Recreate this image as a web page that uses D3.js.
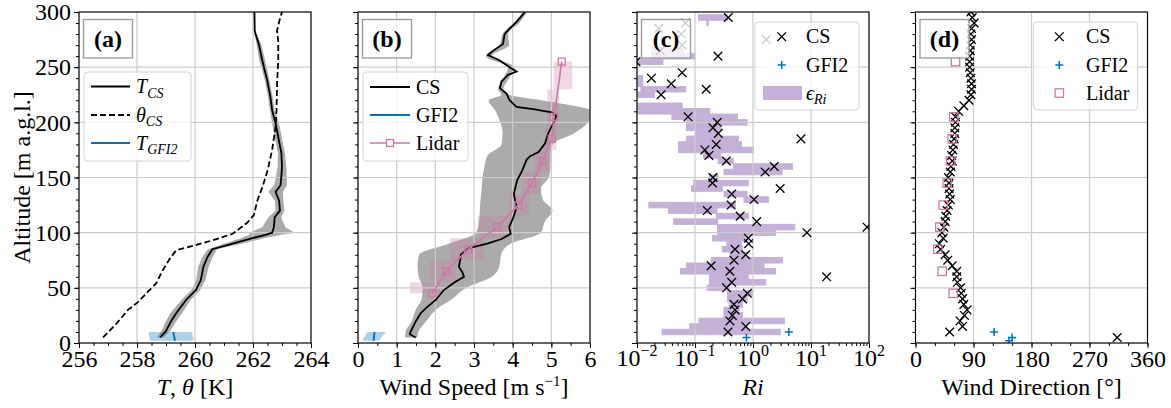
<!DOCTYPE html>
<html>
<head>
<meta charset="utf-8">
<script src="https://cdn.jsdelivr.net/npm/d3@7"></script>
<style>
  body { margin: 0; background: #fff; }
  svg { display: block; }
</style>
</head>
<body>
<svg id="fig" width="1171" height="408"></svg>
<script>
// ---------- Panel (a): temperature profiles ----------
const tcsAlt = [5, 11, 20, 27, 39, 48, 57, 69, 78, 85, 90, 95, 98, 100, 105, 114, 120, 129, 137, 143, 152, 160, 172, 184, 199, 211, 223, 238, 256, 271, 280, 283, 300];
const tcsT   = [258.80, 259.00, 259.18, 259.35, 259.69, 260.03, 260.20, 260.29, 260.43, 260.60, 261.30, 261.98, 262.43, 262.66, 262.72, 262.75, 262.93, 262.90, 262.78, 262.95, 262.98, 263.00, 262.98, 262.89, 262.78, 262.66, 262.60, 262.49, 262.32, 262.20, 262.09, 262.06, 262.05];
const tcsStd = [0.10, 0.15, 0.18, 0.20, 0.16, 0.15, 0.16, 0.18, 0.18, 0.16, 0.30, 0.40, 0.55, 0.78, 0.40, 0.22, 0.15, 0.15, 0.25, 0.22, 0.18, 0.15, 0.12, 0.12, 0.12, 0.08, 0.08, 0.08, 0.10, 0.08, 0.04, 0.00, 0.00];

const thetaAlt = [5, 17.5, 30, 37, 48, 54, 66, 76, 84, 88, 93, 99, 109, 116, 129, 141, 156, 175, 196, 211, 235, 256, 274, 283, 292, 300];
const thetaCS  = [256.83, 257.29, 257.69, 258.03, 258.43, 258.66, 258.89, 259.12, 259.35, 259.92, 260.60, 261.30, 261.80, 262.03, 262.15, 262.32, 262.50, 262.66, 262.78, 262.81, 262.83, 262.87, 262.87, 262.83, 262.91, 263.00];

const gfiAlt  = [2, 10];
const gfiT    = [259.31, 259.25];
const gfiTLo  = [258.45, 258.40];
const gfiTHi  = [259.95, 259.90];

// ---------- Panel (b): wind speed ----------
const wsAlt = [5, 8, 10, 20, 27, 33, 39, 48, 55, 60, 64, 69, 75, 80, 86, 90, 94, 99, 105, 114, 123, 135, 148, 155, 166, 169, 173, 181, 190, 199, 206, 209, 212, 214, 220, 226, 231, 237, 243, 246, 250, 256, 261, 265, 271, 280, 285, 291, 300];
const wsCS  = [1.49, 1.34, 1.36, 1.50, 1.62, 1.80, 2.01, 2.22, 2.50, 2.74, 2.70, 2.61, 2.64, 2.66, 2.87, 3.34, 3.70, 3.95, 3.91, 4.02, 4.10, 4.03, 4.12, 4.23, 4.36, 4.44, 4.67, 4.84, 4.92, 5.05, 5.13, 5.01, 4.53, 4.10, 3.92, 3.84, 3.67, 3.71, 3.88, 4.10, 3.92, 3.67, 3.36, 3.50, 3.75, 3.79, 3.92, 4.10, 4.32];

const wsBandAlt = [5, 10, 20, 30, 40, 50, 60, 70, 80, 90, 100, 110, 120, 130, 140, 150, 160, 170, 180, 190, 200, 210, 220, 225, 230, 240, 250, 260, 270, 280, 290, 300];
const wsBandLo  = [1.22, 1.23, 1.39, 1.49, 1.65, 1.67, 1.57, 1.54, 1.58, 2.34, 3.05, 3.13, 3.15, 3.17, 3.20, 3.22, 3.27, 3.35, 3.71, 3.74, 3.68, 3.56, 3.38, 3.71, 3.62, 3.76, 3.88, 3.31, 3.66, 3.74, 4.03, 4.27];
const wsBandHi  = [1.54, 1.56, 1.77, 2.01, 2.44, 2.80, 3.46, 3.66, 3.70, 3.94, 4.73, 4.83, 5.03, 4.78, 4.73, 4.93, 4.98, 4.98, 5.03, 5.59, 5.95, 6.05, 4.73, 3.91, 3.76, 3.91, 4.05, 3.46, 3.91, 3.88, 4.17, 4.37];

const lidarAlt  = [45, 65, 85, 105, 125, 145, 165, 185, 205, 255];
const lidarWs   = [1.92, 2.29, 2.85, 3.60, 4.15, 4.50, 4.77, 5.01, 5.07, 5.27];
const lidarWsLo = [1.34, 1.86, 2.39, 3.10, 3.91, 4.25, 4.58, 4.83, 4.90, 5.06];
const lidarWsHi = [2.12, 2.54, 3.25, 3.93, 4.42, 4.73, 4.93, 5.13, 5.20, 5.54];

const gfiWs   = [0.40, 0.43];
const gfiWsLo = [0.11, 0.24];
const gfiWsHi = [0.54, 0.72];

// ---------- Panel (c): Richardson number ----------
const riAlt = [10, 15, 20, 25, 30, 35, 40, 45, 50, 55, 60, 65, 70, 75, 80, 85, 90, 95, 100, 105, 110, 115, 120, 125, 130, 135, 140, 145, 150, 155, 160, 165, 170, 175, 180, 185, 190, 195, 200, 205, 225, 230, 235, 240, 245, 255, 260, 265, 270, 275, 280, 285, 290, 295];
const riCS  = [0.37, 0.75, 0.40, 0.44, 0.49, 0.47, 0.66, 0.80, 0.35, 0.43, 18.6, 0.40, 0.19, 0.47, 0.75, 0.49, 0.84, 0.83, 8.5, 92.7, 1.16, 0.60, 0.163, 0.42, 1.04, 0.43, 2.94, 0.20, 0.204, 1.62, 2.32, 0.347, 0.174, 0.148, 0.232, 6.7, 0.252, 0.204, 0.242, 0.076, 0.026, 0.156, 0.039, 0.0177, 0.060, 0.0096, 0.249, 0.0253, 0.060, 1.7, 0.058, 0.0237, 0.0686, 0.375];

const epsAlt = [10, 15, 20, 25, 30, 35, 40, 45, 50, 55, 60, 65, 70, 75, 80, 85, 90, 95, 100, 105, 110, 115, 120, 125, 130, 135, 140, 145, 150, 155, 160, 165, 170, 175, 180, 185, 190, 195, 200, 205, 210, 215, 225, 230, 235, 240, 255, 260, 265, 290, 295];
const epsLo  = [0.027, 0.081, 0.117, 0.316, 0.316, 0.389, 0.363, 0.363, 0.162, 0.178, 0.178, 0.056, 0.071, 0.19, 0.40, 0.295, 0.355, 0.20, 0.245, 0.245, 0.043, 0.234, 0.035, 0.016, 0.70, 0.316, 0.087, 0.095, 0.178, 0.316, 0.457, 0.25, 0.141, 0.052, 0.052, 0.072, 0.10, 0.071, 0.072, 0.04, 0.001, 0.001, 0.001, 0.0117, 0.001, 0.001, 0.001, 0.018, 0.018, 0.16, 0.115];
const epsHi  = [2.95, 0.79, 3.47, 0.66, 0.575, 0.66, 0.79, 0.977, 0.389, 1.66, 0.83, 2.45, 1.55, 3.24, 0.79, 0.66, 0.63, 0.83, 2.45, 5.25, 0.245, 0.83, 0.24, 0.50, 1.86, 0.79, 0.295, 0.83, 0.25, 3.16, 4.79, 0.457, 0.28, 1.02, 0.63, 0.56, 0.25, 0.28, 0.79, 0.54, 0.18, 0.06, 0.02, 0.069, 0.0126, 0.0126, 0.028, 0.10, 0.063, 0.17, 0.36];

const gfiRiAlt = [5, 10];
const gfiRi    = [0.77, 4.15];

// ---------- Panel (d): wind direction ----------
const dirAlt = [5, 10, 15, 20, 25, 30, 35, 40, 45, 50, 55, 60, 65, 70, 75, 80, 85, 90, 95, 100, 105, 110, 115, 120, 125, 130, 135, 140, 145, 150, 155, 160, 165, 170, 175, 180, 185, 190, 195, 200, 205, 210, 215, 220, 225, 230, 235, 240, 245, 250, 255, 260, 265, 270, 275, 280, 285, 290, 295, 300];
const dirCS  = [313, 53, 73, 69, 76, 80, 75, 73, 71, 70, 65, 64, 64, 57, 50, 46, 39, 37, 43, 41, 44, 46, 47, 49, 51, 54, 53, 52, 52, 51, 54, 55, 57, 56, 58, 59, 60, 61, 61, 62, 62, 67, 75, 83, 86, 87, 87, 86, 85, 84, 84, 84, 85, 85, 87, 86, 87, 91, 88, 86];
const lidarDir = [58.5, 41.4, 34.7, 37.8, 43.0, 49.2, 54.4, 57.0, 59.5, 62.1];
const gfiDirAlt = [2, 5, 10];
const gfiDir    = [145, 150, 122];

// ---------- Ticks ----------
const altMajor = [0, 50, 100, 150, 200, 250, 300];
const altMinor = d3.range(0, 301, 10);
const tMajor = [256, 258, 260, 262, 264];
const wsMajor = [0, 1, 2, 3, 4, 5, 6];
const riMajor = [1e-2, 1e-1, 1e0, 1e1, 1e2];
const riExp = ["−2", "−1", "0", "1", "2"];
const dirMajor = [0, 90, 180, 270, 360];

// ---------- Layout & style ----------
const FONT = '"Liberation Serif", "Times New Roman", serif';
const FS_TICK = 24, FS_LABEL = 24, FS_LEG = 20, FS_SUB = 14;
const C_BLUE = "#0072b2", C_PINK = "#cc79a7", C_PURPLE = "#c5b1d8", C_GRAY = "#ababab", C_GRID = "#cccccc";
const panelLeft = [79, 358, 637, 915.5];
const panelW = 232;
const yTop = 12, yBottom = 343;

const svg = d3.select("#fig").attr("font-family", FONT);
const y = d3.scaleLinear().domain([0, 300]).range([yBottom, yTop]);
const defs = svg.append("defs");

function makePanel(i, xScale, xMajor) {
  const x0 = panelLeft[i];
  xScale.range([x0, x0 + panelW]);
  defs.append("clipPath").attr("id", "clip" + i)
    .append("rect").attr("x", x0).attr("y", yTop).attr("width", panelW).attr("height", yBottom - yTop);
  const g = svg.append("g");
  const under = g.append("g").attr("clip-path", `url(#clip${i})`);
  const grid = g.append("g").attr("stroke", C_GRID).attr("stroke-width", 1.2);
  grid.selectAll("line.v").data(xMajor).join("line")
    .attr("x1", d => xScale(d)).attr("x2", d => xScale(d)).attr("y1", yTop).attr("y2", yBottom);
  grid.selectAll("line.h").data(altMajor).join("line")
    .attr("x1", x0).attr("x2", x0 + panelW).attr("y1", d => y(d)).attr("y2", d => y(d));
  const over = g.append("g").attr("clip-path", `url(#clip${i})`);
  const deco = g.append("g");
  return { x0, x1: x0 + panelW, under, over, deco };
}

function styleAxis(sel) {
  sel.attr("font-family", FONT).attr("font-size", FS_TICK);
  sel.select(".domain").remove();
  sel.selectAll(".tick line").attr("stroke", "#000").attr("stroke-width", 1);
  sel.selectAll(".tick text").attr("fill", "#000");
}

function drawAxes(p, xScale, xMajor, xMinor, fmt, showYLabels) {
  const bx = p.deco.append("g").attr("transform", `translate(0,${yBottom})`)
    .call(d3.axisBottom(xScale).tickValues(xMinor).tickSize(3).tickFormat(""));
  styleAxis(bx);
  const bX = p.deco.append("g").attr("transform", `translate(0,${yBottom})`)
    .call(d3.axisBottom(xScale).tickValues(xMajor).tickSize(5).tickPadding(2).tickFormat(fmt || ""));
  styleAxis(bX);
  const ly = p.deco.append("g").attr("transform", `translate(${p.x0},0)`)
    .call(d3.axisLeft(y).tickValues(altMinor).tickSize(3).tickFormat(""));
  styleAxis(ly);
  const lY = p.deco.append("g").attr("transform", `translate(${p.x0},0)`)
    .call(d3.axisLeft(y).tickValues(altMajor).tickSize(5).tickPadding(3).tickFormat(showYLabels ? d3.format("d") : ""));
  styleAxis(lY);
  p.deco.append("rect").attr("x", p.x0).attr("y", yTop).attr("width", panelW).attr("height", yBottom - yTop)
    .attr("fill", "none").attr("stroke", "#000").attr("stroke-width", 1.1);
}

function panelTag(p, label) {
  p.deco.append("rect").attr("x", p.x0 + 4.5).attr("y", 19.5).attr("width", 49).attr("height", 38.5)
    .attr("fill", "#fff").attr("fill-opacity", 0.8).attr("stroke", "#999").attr("stroke-width", 1.3);
  p.deco.append("text").attr("x", p.x0 + 29).attr("y", 47).attr("text-anchor", "middle")
    .attr("font-size", 24).attr("font-weight", "bold").text(label);
}

function legendBox(p, x, yy, w, h) {
  p.deco.append("rect").attr("x", x).attr("y", yy).attr("width", w).attr("height", h).attr("rx", 3.5)
    .attr("fill", "#fff").attr("fill-opacity", 0.8).attr("stroke", "#d4d4d4").attr("stroke-width", 1);
}

function legendText(p, x, yy, main, sub, italicMain) {
  const t = p.deco.append("text").attr("x", x).attr("y", yy + 6.5).attr("font-size", FS_LEG);
  t.append("tspan").attr("font-style", italicMain ? "italic" : null).text(main);
  if (sub) t.append("tspan").attr("font-style", "italic").attr("font-size", FS_SUB).attr("dy", 4.5).text(sub);
}

function xLabel(p, build) {
  const t = p.deco.append("text").attr("x", p.x0 + panelW / 2).attr("y", 395)
    .attr("text-anchor", "middle").attr("font-size", FS_LABEL);
  build(t);
}

const cross = s => `M${-s},${-s}L${s},${s}M${-s},${s}L${s},${-s}`;
const plus = s => `M${-s},0L${s},0M0,${-s}L0,${s}`;

// ======================= Panel (a) =======================
{
  const x = d3.scaleLinear().domain([256, 264]);
  const p = makePanel(0, x, tMajor);
  const tcs = tcsAlt.map((a, i) => ({ a, v: tcsT[i], s: tcsStd[i] }));
  p.under.append("path").datum(tcs)
    .attr("fill", C_GRAY)
    .attr("d", d3.area().y(d => y(d.a)).x0(d => x(d.v - d.s)).x1(d => x(d.v + d.s)));
  const gfi = gfiAlt.map((a, i) => ({ a, v: gfiT[i], lo: gfiTLo[i], hi: gfiTHi[i] }));
  p.under.append("path").datum(gfi)
    .attr("fill", C_BLUE).attr("fill-opacity", 0.32)
    .attr("d", d3.area().y(d => y(d.a)).x0(d => x(d.lo)).x1(d => x(d.hi)));

  p.over.append("path").datum(tcs).attr("fill", "none").attr("stroke", "#000").attr("stroke-width", 1.8)
    .attr("d", d3.line().x(d => x(d.v)).y(d => y(d.a)));
  p.over.append("path").datum(thetaAlt.map((a, i) => ({ a, v: thetaCS[i] })))
    .attr("fill", "none").attr("stroke", "#000").attr("stroke-width", 1.8).attr("stroke-dasharray", "6,3")
    .attr("d", d3.line().x(d => x(d.v)).y(d => y(d.a)));
  p.over.append("path").datum(gfi).attr("fill", "none").attr("stroke", C_BLUE).attr("stroke-width", 1.8)
    .attr("d", d3.line().x(d => x(d.v)).y(d => y(d.a)));

  drawAxes(p, x, tMajor, d3.range(256, 264.01, 0.5), d3.format("d"), true);
  panelTag(p, "(a)");

  legendBox(p, 84, 72, 107, 89);
  const rows = [86.5, 115, 143];
  p.deco.append("line").attr("x1", 91).attr("x2", 130).attr("y1", rows[0]).attr("y2", rows[0]).attr("stroke", "#000").attr("stroke-width", 1.8);
  p.deco.append("line").attr("x1", 91).attr("x2", 130).attr("y1", rows[1]).attr("y2", rows[1]).attr("stroke", "#000").attr("stroke-width", 1.8).attr("stroke-dasharray", "6,3");
  p.deco.append("line").attr("x1", 91).attr("x2", 130).attr("y1", rows[2]).attr("y2", rows[2]).attr("stroke", C_BLUE).attr("stroke-width", 1.8);
  legendText(p, 136, rows[0], "T", "CS", true);
  legendText(p, 136, rows[1], "θ", "CS", true);
  legendText(p, 136, rows[2], "T", "GFI2", true);

  xLabel(p, t => {
    t.append("tspan").attr("font-style", "italic").text("T");
    t.append("tspan").text(", ");
    t.append("tspan").attr("font-style", "italic").text("θ");
    t.append("tspan").text(" [K]");
  });

  svg.append("text").attr("transform", `translate(30,${(yTop + yBottom) / 2}) rotate(-90)`)
    .attr("text-anchor", "middle").attr("font-size", FS_LABEL).text("Altitude [m a.g.l.]");
}

// ======================= Panel (b) =======================
{
  const x = d3.scaleLinear().domain([0, 6]);
  const p = makePanel(1, x, wsMajor);
  const band = wsBandAlt.map((a, i) => ({ a, lo: wsBandLo[i], hi: wsBandHi[i] }));
  p.under.append("path").datum(band).attr("fill", C_GRAY)
    .attr("d", d3.area().y(d => y(d.a)).x0(d => x(d.lo)).x1(d => x(d.hi)).curve(d3.curveMonotoneY));

  // lidar spread boxes, each spanning halfway to the neighbouring levels
  const n = lidarAlt.length;
  const boxes = lidarAlt.map((a, i) => ({
    bot: i === 0 ? a : (lidarAlt[i - 1] + a) / 2,
    top: i === n - 1 ? a : (a + lidarAlt[i + 1]) / 2,
    lo: lidarWsLo[i], hi: lidarWsHi[i]
  }));
  p.under.selectAll("rect.lid").data(boxes).join("rect")
    .attr("x", d => x(d.lo)).attr("width", d => x(d.hi) - x(d.lo))
    .attr("y", d => y(d.top)).attr("height", d => y(d.bot) - y(d.top))
    .attr("fill", C_PINK).attr("fill-opacity", 0.3);

  const gfi = gfiAlt.map((a, i) => ({ a, v: gfiWs[i], lo: gfiWsLo[i], hi: gfiWsHi[i] }));
  p.under.append("path").datum(gfi).attr("fill", C_BLUE).attr("fill-opacity", 0.32)
    .attr("d", d3.area().y(d => y(d.a)).x0(d => x(d.lo)).x1(d => x(d.hi)));

  p.over.append("path").datum(wsAlt.map((a, i) => ({ a, v: wsCS[i] })))
    .attr("fill", "none").attr("stroke", "#000").attr("stroke-width", 1.8)
    .attr("d", d3.line().x(d => x(d.v)).y(d => y(d.a)));
  p.over.append("path").datum(gfi).attr("fill", "none").attr("stroke", C_BLUE).attr("stroke-width", 1.8)
    .attr("d", d3.line().x(d => x(d.v)).y(d => y(d.a)));
  const lid = lidarAlt.map((a, i) => ({ a, v: lidarWs[i] }));
  p.over.append("path").datum(lid).attr("fill", "none").attr("stroke", C_PINK).attr("stroke-width", 1.6)
    .attr("d", d3.line().x(d => x(d.v)).y(d => y(d.a)));
  p.over.selectAll("rect.sq").data(lid).join("rect")
    .attr("x", d => x(d.v) - 3.5).attr("y", d => y(d.a) - 3.5).attr("width", 7).attr("height", 7)
    .attr("fill", "none").attr("stroke", C_PINK).attr("stroke-width", 1.3);

  drawAxes(p, x, wsMajor, d3.range(0, 6.01, 0.5), d3.format("d"), false);
  panelTag(p, "(b)");

  legendBox(p, 363, 72, 105, 89);
  const rows = [87, 115, 143];
  p.deco.append("line").attr("x1", 370).attr("x2", 410).attr("y1", rows[0]).attr("y2", rows[0]).attr("stroke", "#000").attr("stroke-width", 1.8);
  p.deco.append("line").attr("x1", 370).attr("x2", 410).attr("y1", rows[1]).attr("y2", rows[1]).attr("stroke", C_BLUE).attr("stroke-width", 1.8);
  p.deco.append("line").attr("x1", 370).attr("x2", 410).attr("y1", rows[2]).attr("y2", rows[2]).attr("stroke", C_PINK).attr("stroke-width", 1.6);
  p.deco.append("rect").attr("x", 386.5).attr("y", rows[2] - 3.5).attr("width", 7).attr("height", 7)
    .attr("fill", "#fff").attr("stroke", C_PINK).attr("stroke-width", 1.3);
  legendText(p, 416, rows[0], "CS");
  legendText(p, 416, rows[1], "GFI2");
  legendText(p, 416, rows[2], "Lidar");

  xLabel(p, t => {
    t.append("tspan").text("Wind Speed [m s");
    t.append("tspan").attr("font-size", 15).attr("dy", -9).text("−1");
    t.append("tspan").attr("dy", 9).text("]");
  });
}

// ======================= Panel (c) =======================
{
  const x = d3.scaleLog().domain([1e-2, 1e2]);
  const p = makePanel(2, x, riMajor);
  const eps = epsAlt.map((a, i) => ({ a, lo: epsLo[i], hi: epsHi[i] }));
  p.under.selectAll("rect.eps").data(eps).join("rect")
    .attr("x", d => x(d.lo)).attr("width", d => x(d.hi) - x(d.lo))
    .attr("y", d => y(d.a + 2.5)).attr("height", d => y(d.a - 2.5) - y(d.a + 2.5))
    .attr("fill", C_PURPLE).attr("stroke", C_PURPLE).attr("stroke-width", 1);

  p.over.selectAll("path.cs").data(riAlt.map((a, i) => ({ a, v: riCS[i] }))).join("path")
    .attr("transform", d => `translate(${x(d.v)},${y(d.a)})`).attr("d", cross(4.3))
    .attr("stroke", "#000").attr("stroke-width", 1.3).attr("fill", "none");
  p.over.selectAll("path.gfi").data(gfiRiAlt.map((a, i) => ({ a, v: gfiRi[i] }))).join("path")
    .attr("transform", d => `translate(${x(d.v)},${y(d.a)})`).attr("d", plus(4))
    .attr("stroke", C_BLUE).attr("stroke-width", 1.5).attr("fill", "none");

  const minors = [];
  for (let e = -2; e < 2; e++) for (let m = 2; m <= 9; m++) minors.push(m * Math.pow(10, e));
  drawAxes(p, x, riMajor, minors, null, false);
  p.deco.selectAll("text.rt").data(riMajor).join("text")
    .attr("x", d => x(d)).attr("y", 366).attr("text-anchor", "middle").attr("font-size", FS_TICK)
    .each(function (d, i) {
      const t = d3.select(this);
      t.append("tspan").text("10");
      t.append("tspan").attr("font-size", 16).attr("dy", -10).text(riExp[i]);
    });
  panelTag(p, "(c)");

  legendBox(p, 755, 22, 104, 88);
  const rows = [36.7, 65, 93];
  p.deco.append("path").attr("transform", `translate(781.7,${rows[0]})`).attr("d", cross(4.3))
    .attr("stroke", "#000").attr("stroke-width", 1.3);
  p.deco.append("path").attr("transform", `translate(781.7,${rows[1]})`).attr("d", plus(4))
    .attr("stroke", C_BLUE).attr("stroke-width", 1.5);
  p.deco.append("rect").attr("x", 763).attr("y", rows[2] - 7).attr("width", 39).attr("height", 14).attr("fill", C_PURPLE);
  legendText(p, 806, rows[0], "CS");
  legendText(p, 806, rows[1], "GFI2");
  legendText(p, 806, rows[2], "ϵ", "Ri", true);

  xLabel(p, t => t.append("tspan").attr("font-style", "italic").text("Ri"));
}

// ======================= Panel (d) =======================
{
  const x = d3.scaleLinear().domain([0, 360]);
  const p = makePanel(3, x, dirMajor);
  p.over.selectAll("path.cs").data(dirAlt.map((a, i) => ({ a, v: dirCS[i] }))).join("path")
    .attr("transform", d => `translate(${x(d.v)},${y(d.a)})`).attr("d", cross(4.3))
    .attr("stroke", "#000").attr("stroke-width", 1.3).attr("fill", "none");
  p.over.selectAll("path.gfi").data(gfiDirAlt.map((a, i) => ({ a, v: gfiDir[i] }))).join("path")
    .attr("transform", d => `translate(${x(d.v)},${y(d.a)})`).attr("d", plus(4))
    .attr("stroke", C_BLUE).attr("stroke-width", 1.5).attr("fill", "none");
  p.over.selectAll("rect.sq").data(lidarAlt.map((a, i) => ({ a, v: lidarDir[i] }))).join("rect")
    .attr("x", d => x(d.v) - 4.2).attr("y", d => y(d.a) - 4.2).attr("width", 8.4).attr("height", 8.4)
    .attr("fill", "none").attr("stroke", C_PINK).attr("stroke-width", 1.3);

  drawAxes(p, x, dirMajor, d3.range(0, 361, 30), d3.format("d"), false);
  panelTag(p, "(d)");

  legendBox(p, 1033.5, 22, 104, 88);
  const rows = [36.7, 65, 93];
  p.deco.append("path").attr("transform", `translate(1059.3,${rows[0]})`).attr("d", cross(4.3))
    .attr("stroke", "#000").attr("stroke-width", 1.3);
  p.deco.append("path").attr("transform", `translate(1059.3,${rows[1]})`).attr("d", plus(4))
    .attr("stroke", C_BLUE).attr("stroke-width", 1.5);
  p.deco.append("rect").attr("x", 1055.1).attr("y", rows[2] - 4.2).attr("width", 8.4).attr("height", 8.4)
    .attr("fill", "none").attr("stroke", C_PINK).attr("stroke-width", 1.3);
  legendText(p, 1086, rows[0], "CS");
  legendText(p, 1086, rows[1], "GFI2");
  legendText(p, 1086, rows[2], "Lidar");

  xLabel(p, t => t.append("tspan").text("Wind Direction [°]"));
}
</script>
</body>
</html>
